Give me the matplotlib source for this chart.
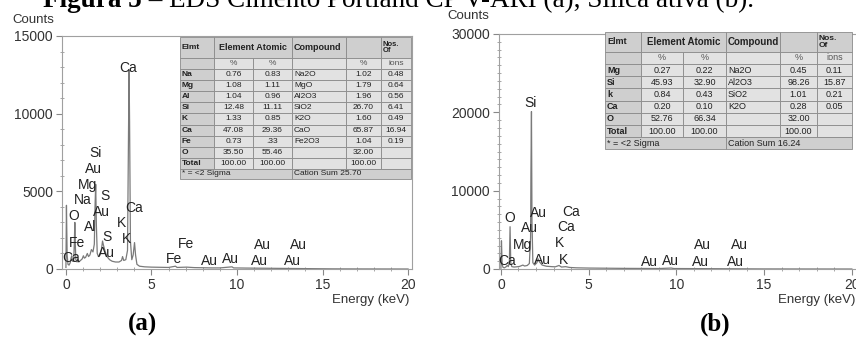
import matplotlib
matplotlib.use('Agg')
import matplotlib.pyplot as plt
from matplotlib.patches import Rectangle
from matplotlib.ticker import MultipleLocator

plt.rcParams['font.family'] = ['Liberation Sans', 'DejaVu Sans']

W, H = 856, 345

# ---- spectrum (a): cimento Portland CP V-ARI ----
energy_a = [0.00, 0.03, 0.07, 0.12, 0.18, 0.25, 0.30, 0.34, 0.38, 0.45, 0.49, 0.52,
            0.55, 0.58, 0.65, 0.70, 0.75, 0.85, 0.95, 1.02, 1.08, 1.15, 1.25, 1.32,
            1.40, 1.49, 1.58, 1.66, 1.70, 1.74, 1.78, 1.83, 1.90, 2.00, 2.08, 2.14,
            2.20, 2.30, 2.40, 2.55, 2.70, 2.90, 3.10, 3.25, 3.31, 3.38, 3.50, 3.60,
            3.66, 3.69, 3.72, 3.77, 3.85, 3.93, 4.01, 4.07, 4.15, 4.30, 4.60, 5.00,
            5.50, 6.00, 6.40, 6.50, 7.06, 7.50, 8.00, 8.50, 9.00, 9.71, 9.80, 10.5,
            11.5, 12.5, 13.5, 14.5, 15.5, 17.0, 20.0]
counts_a = [100, 4100, 900, 300, 250, 400, 700, 850, 500, 500, 1600, 3000,
            1500, 600, 450, 600, 450, 550, 650, 850, 700, 750, 1000, 800,
            900, 1250, 1100, 1600, 4000, 5450, 2800, 1000, 800, 900, 1300, 1800,
            1500, 1100, 800, 600, 500, 450, 450, 550, 800, 550, 600, 1200,
            9000, 12800, 9500, 1800, 600, 900, 1700, 900, 300, 180, 140, 120,
            110, 100, 180, 100, 120, 90, 80, 70, 70, 140, 70, 60,
            50, 40, 30, 20, 10, 5, 0]
labels_a = [('Ca', 3.62, 12950), ('Si', 1.73, 7460), ('Au', 1.63, 6430), ('Mg', 1.24, 5420),
            ('S', 2.27, 4730), ('Na', 1.01, 4450), ('Au', 2.07, 3700), ('O', 0.47, 3440),
            ('Ca', 3.97, 3950), ('K', 3.27, 2990), ('Al', 1.43, 2730), ('Fe', 0.66, 1700),
            ('S', 2.40, 2040), ('K', 3.53, 1920), ('Au', 2.36, 1010), ('Ca', 0.33, 730),
            ('Fe', 7.02, 1610), ('Fe', 6.34, 625), ('Au', 8.41, 540), ('Au', 9.59, 645),
            ('Au', 11.47, 1550), ('Au', 11.34, 540), ('Au', 13.60, 1550), ('Au', 13.27, 540)]

# ---- spectrum (b): silica ativa ----
energy_b = [0.00, 0.03, 0.07, 0.12, 0.20, 0.30, 0.36, 0.42, 0.48, 0.52, 0.56, 0.62,
            0.75, 0.90, 1.05, 1.25, 1.35, 1.50, 1.62, 1.69, 1.71, 1.74, 1.77, 1.82,
            1.92, 2.05, 2.12, 2.20, 2.35, 2.60, 2.90, 3.10, 3.31, 3.45, 3.69, 3.90,
            4.30, 5.00, 6.00, 7.00, 8.00, 9.00, 9.71, 9.85, 11.0, 12.0, 13.0, 14.0,
            15.0, 17.0, 20.0]
counts_b = [100, 3600, 600, 200, 150, 300, 450, 300, 800, 5400, 800, 300,
            250, 280, 320, 500, 380, 450, 700, 4000, 12500, 20100, 6000, 800,
            500, 800, 1300, 900, 500, 350, 300, 280, 450, 250, 300, 200,
            150, 120, 100, 80, 70, 60, 120, 60, 50, 40, 30, 20,
            10, 5, 0]
labels_b = [('Si', 1.70, 21160), ('O', 0.51, 6470), ('Au', 2.12, 7190), ('Ca', 4.02, 7320),
            ('Au', 1.65, 5280), ('Ca', 3.69, 5400), ('Mg', 1.23, 3060), ('K', 3.31, 3360),
            ('Ca', 0.36, 1020), ('Au', 2.37, 1150), ('K', 3.58, 1150), ('Au', 8.47, 940),
            ('Au', 9.64, 1060), ('Au', 11.50, 3060), ('Au', 11.40, 940), ('Au', 13.60, 3060),
            ('Au', 13.35, 940)]

# ---- quantification tables ----
pct_row = ['', '%', '%', '', '%', 'ions']
rows_a = [['Na', '0.76', '0.83', 'Na2O', '1.02', '0.48'],
          ['Mg', '1.08', '1.11', 'MgO', '1.79', '0.64'],
          ['Al', '1.04', '0.96', 'Al2O3', '1.96', '0.56'],
          ['Si', '12.48', '11.11', 'SiO2', '26.70', '6.41'],
          ['K', '1.33', '0.85', 'K2O', '1.60', '0.49'],
          ['Ca', '47.08', '29.36', 'CaO', '65.87', '16.94'],
          ['Fe', '0.73', '.33', 'Fe2O3', '1.04', '0.19'],
          ['O', '35.50', '55.46', '', '32.00', ''],
          ['Total', '100.00', '100.00', '', '100.00', '']]
cation_a = 'Cation Sum 25.70'
rows_b = [['Mg', '0.27', '0.22', 'Na2O', '0.45', '0.11'],
          ['Si', '45.93', '32.90', 'Al2O3', '98.26', '15.87'],
          ['k', '0.84', '0.43', 'SiO2', '1.01', '0.21'],
          ['Ca', '0.20', '0.10', 'K2O', '0.28', '0.05'],
          ['O', '52.76', '66.34', '', '32.00', ''],
          ['Total', '100.00', '100.00', '', '100.00', '']]
cation_b = 'Cation Sum 16.24'

fig = plt.figure(figsize=(W / 100, H / 100), dpi=100)


def px_axes(l, t, r, b):
    return fig.add_axes([l / W, 1 - b / H, (r - l) / W, (b - t) / H])


def spectrum(ax, e, c, labels, xlim, ymax, ystep, yminor):
    ax.plot(e, c, color='#7a7a7a', lw=0.9)
    for name, x, y in labels:
        ax.text(x, y, name, ha='center', va='center', fontsize=10, color='#222222')
    ax.set_xlim(*xlim)
    ax.set_ylim(0, ymax)
    ax.xaxis.set_major_locator(MultipleLocator(5))
    ax.xaxis.set_minor_locator(MultipleLocator(1))
    ax.yaxis.set_major_locator(MultipleLocator(ystep))
    ax.yaxis.set_minor_locator(MultipleLocator(yminor))
    for s in ax.spines.values():
        s.set_color('#a0a0a0')
        s.set_linewidth(0.8)
    ax.tick_params(which='major', direction='out', length=4.5, width=0.8, color='#888888',
                   labelsize=10, labelcolor='#333333', pad=2)
    ax.tick_params(which='minor', direction='inout', length=3, width=0.6, color='#999999')
    ax.set_facecolor('white')


ax_a = px_axes(62, 36, 412, 269)
spectrum(ax_a, energy_a, counts_a, labels_a, (-0.23, 20.23), 15000, 5000, 1000)
ax_b = px_axes(499, 34, 858, 269)
spectrum(ax_b, energy_b, counts_b, labels_b, (-0.11, 20.35), 30000, 10000, 1000)

# overlay in pixel coordinates for tables and captions
ov = fig.add_axes([0, 0, 1, 1], zorder=5)
ov.set_xlim(0, W)
ov.set_ylim(H, 0)
ov.axis('off')


def cell(x0, x1, y0, y1, text, fc, ha='center', bold=False, fs=6, color='#222222'):
    ov.add_patch(Rectangle((x0, y0), x1 - x0, y1 - y0, facecolor=fc, edgecolor='#8a8a8a', lw=0.6))
    if text:
        tx = {'center': (x0 + x1) / 2, 'left': x0 + 2}[ha]
        ov.text(tx, (y0 + y1) / 2, text, ha=ha, va='center', fontsize=fs, color=color,
                fontweight='bold' if bold else 'normal', linespacing=1.0)


def draw_table(xs, ys, rows, cation, fs):
    hd, bd = '#cfcfcf', '#e2e2e2'
    y0, y1 = ys[0], ys[1]
    cell(xs[0], xs[1], y0, y1, 'Elmt', hd, ha='left', bold=True, fs=fs)
    cell(xs[1], xs[3], y0, y1, 'Element Atomic', hd, bold=True, fs=fs + 0.5)
    cell(xs[3], xs[4], y0, y1, 'Compound', hd, ha='left', bold=True, fs=fs + 0.5)
    cell(xs[4], xs[5], y0, y1, '', hd)
    cell(xs[5], xs[6], y0, y1, 'Nos.\nOf', hd, ha='left', bold=True, fs=fs - 0.5)
    for j, t in enumerate(pct_row):
        cell(xs[j], xs[j + 1], ys[1], ys[2], t, hd if j == 0 else bd, fs=fs, color='#555555')
    for i, r in enumerate(rows):
        for j, t in enumerate(r):
            cell(xs[j], xs[j + 1], ys[2 + i], ys[3 + i], t, hd if j == 0 else bd,
                 ha='left' if j in (0, 3) else 'center', bold=(j == 0), fs=fs)
    cell(xs[0], xs[3], ys[-2], ys[-1], '* = <2 Sigma', hd, ha='left', fs=fs)
    cell(xs[3], xs[6], ys[-2], ys[-1], cation, hd, ha='left', fs=fs)


xs_a = [180, 214, 253, 292, 346, 381, 411]
ys_a = [37, 58, 69] + [69 + 11.1 * (k + 1) for k in range(9)] + [179]
draw_table(xs_a, ys_a, rows_a, cation_a, 6)

xs_b = [605, 641, 683, 726, 780, 817, 852]
ys_b = [32, 52, 64] + [64 + 12.2 * (k + 1) for k in range(6)] + [149]
draw_table(xs_b, ys_b, rows_b, cation_b, 6.5)

# axis captions
for x, y in [(33, 20), (468, 16)]:
    ov.text(x, y, 'Counts', ha='center', va='center', fontsize=9.5, color='#333333')
for x in (409, 855):
    ov.text(x, 300, 'Energy (keV)', ha='right', va='center', fontsize=9.5, color='#333333')
for x, t in [(143, '(a)'), (715, '(b)')]:
    ov.text(x, 331, t, ha='center', va='baseline', fontsize=18, fontweight='bold',
            family='Liberation Serif', color='black')

# figure caption, cut at the top edge as in the scan
fig.canvas.draw()
r = fig.canvas.get_renderer()
x0 = 43
t1 = ov.text(x0, 7, 'Figura 5', ha='left', va='baseline', fontsize=19.5, fontweight='bold',
             family='Liberation Serif')
bb = t1.get_window_extent(renderer=r)
ov.text(x0 + bb.width, 7, ' \u2013 EDS Cimento Portland CP V-ARI (a), S\u00edlica ativa (b).',
        ha='left', va='baseline', fontsize=19.5, family='Liberation Serif')

fig.savefig('out.png', dpi=100)
